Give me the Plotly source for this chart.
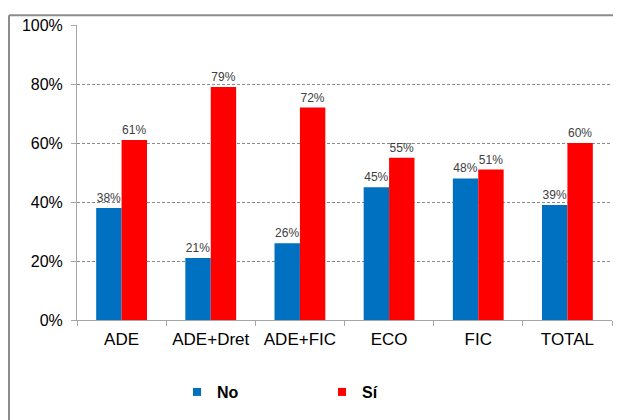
import plotly.graph_objects as go

categories = ["ADE", "ADE+Dret", "ADE+FIC", "ECO", "FIC", "TOTAL"]
no_values = [0.38, 0.21, 0.26, 0.45, 0.48, 0.39]
si_values = [0.61, 0.79, 0.72, 0.55, 0.51, 0.60]
y_ticks = [0, 0.2, 0.4, 0.6, 0.8, 1.0]
y_tick_labels = ["0%", "20%", "40%", "60%", "80%", "100%"]

BLUE = "#0070C0"
RED = "#FF0000"
FONT = "Liberation Sans, Arial, sans-serif"

# page body has an 8px margin, so the figure is laid out 8px smaller
W, H = 613, 412
L, R, T, B = 69, 9, 13, 100
PW, PH = W - L - R, H - T - B

fig = go.Figure()
for name, vals, col in [("No", no_values, BLUE), ("Sí", si_values, RED)]:
    fig.add_trace(go.Bar(
        x=categories, y=vals, name=name, marker=dict(color=col, line=dict(width=0)),
        texttemplate="%{y:.0%}", textposition="outside", cliponaxis=False,
        textfont=dict(family=FONT, size=12, color="#404040"),
        showlegend=False,
    ))
    fig.add_trace(go.Scatter(
        x=[None], y=[None], mode="markers", name=name,
        marker=dict(symbol="square", size=8, color=col),
    ))

bx = (1 - L) / PW
by = (PH - (3 - T)) / PH

fig.update_layout(
    width=W, height=H,
    margin=dict(l=L, r=R, t=T, b=B),
    paper_bgcolor="white", plot_bgcolor="white",
    barmode="group", bargap=0.43, bargroupgap=0,
    font=dict(family=FONT, color="#000000"),
    legend=dict(
        orientation="h", x=100 / PW, xanchor="left",
        y=(PH - (385 - T)) / PH, yanchor="middle",
        font=dict(family=FONT, size=16, color="#000000", weight="bold"),
        entrywidth=100, bgcolor="rgba(0,0,0,0)", itemclick=False,
    ),
    xaxis=dict(
        showline=True, linecolor="#A6A6A6", linewidth=1,
        ticks="outside", tickson="boundaries", ticklen=5, tickcolor="#A6A6A6",
        tickfont=dict(family=FONT, size=17, color="#000000"),
        ticklabelstandoff=4, showgrid=False, fixedrange=True,
    ),
    yaxis=dict(
        range=[0, 1], tickvals=y_ticks, ticktext=y_tick_labels,
        showline=True, linecolor="#A6A6A6", linewidth=1,
        ticks="outside", ticklen=5, tickcolor="#A6A6A6",
        tickfont=dict(family=FONT, size=16, color="#000000"),
        ticklabelstandoff=5,
        showgrid=True, gridcolor="#8C8C8C", gridwidth=1, griddash="3px,2px",
        zeroline=False, fixedrange=True,
    ),
    shapes=[
        dict(type="line", xref="paper", yref="paper",
             x0=bx, x1=bx, y0=by, y1=-0.5,
             line=dict(color="#8C8C8C", width=2)),
        dict(type="line", xref="paper", yref="paper",
             x0=bx, x1=1.2, y0=by, y1=by,
             line=dict(color="#8C8C8C", width=2)),
    ],
)

fig.write_html("out.html")
